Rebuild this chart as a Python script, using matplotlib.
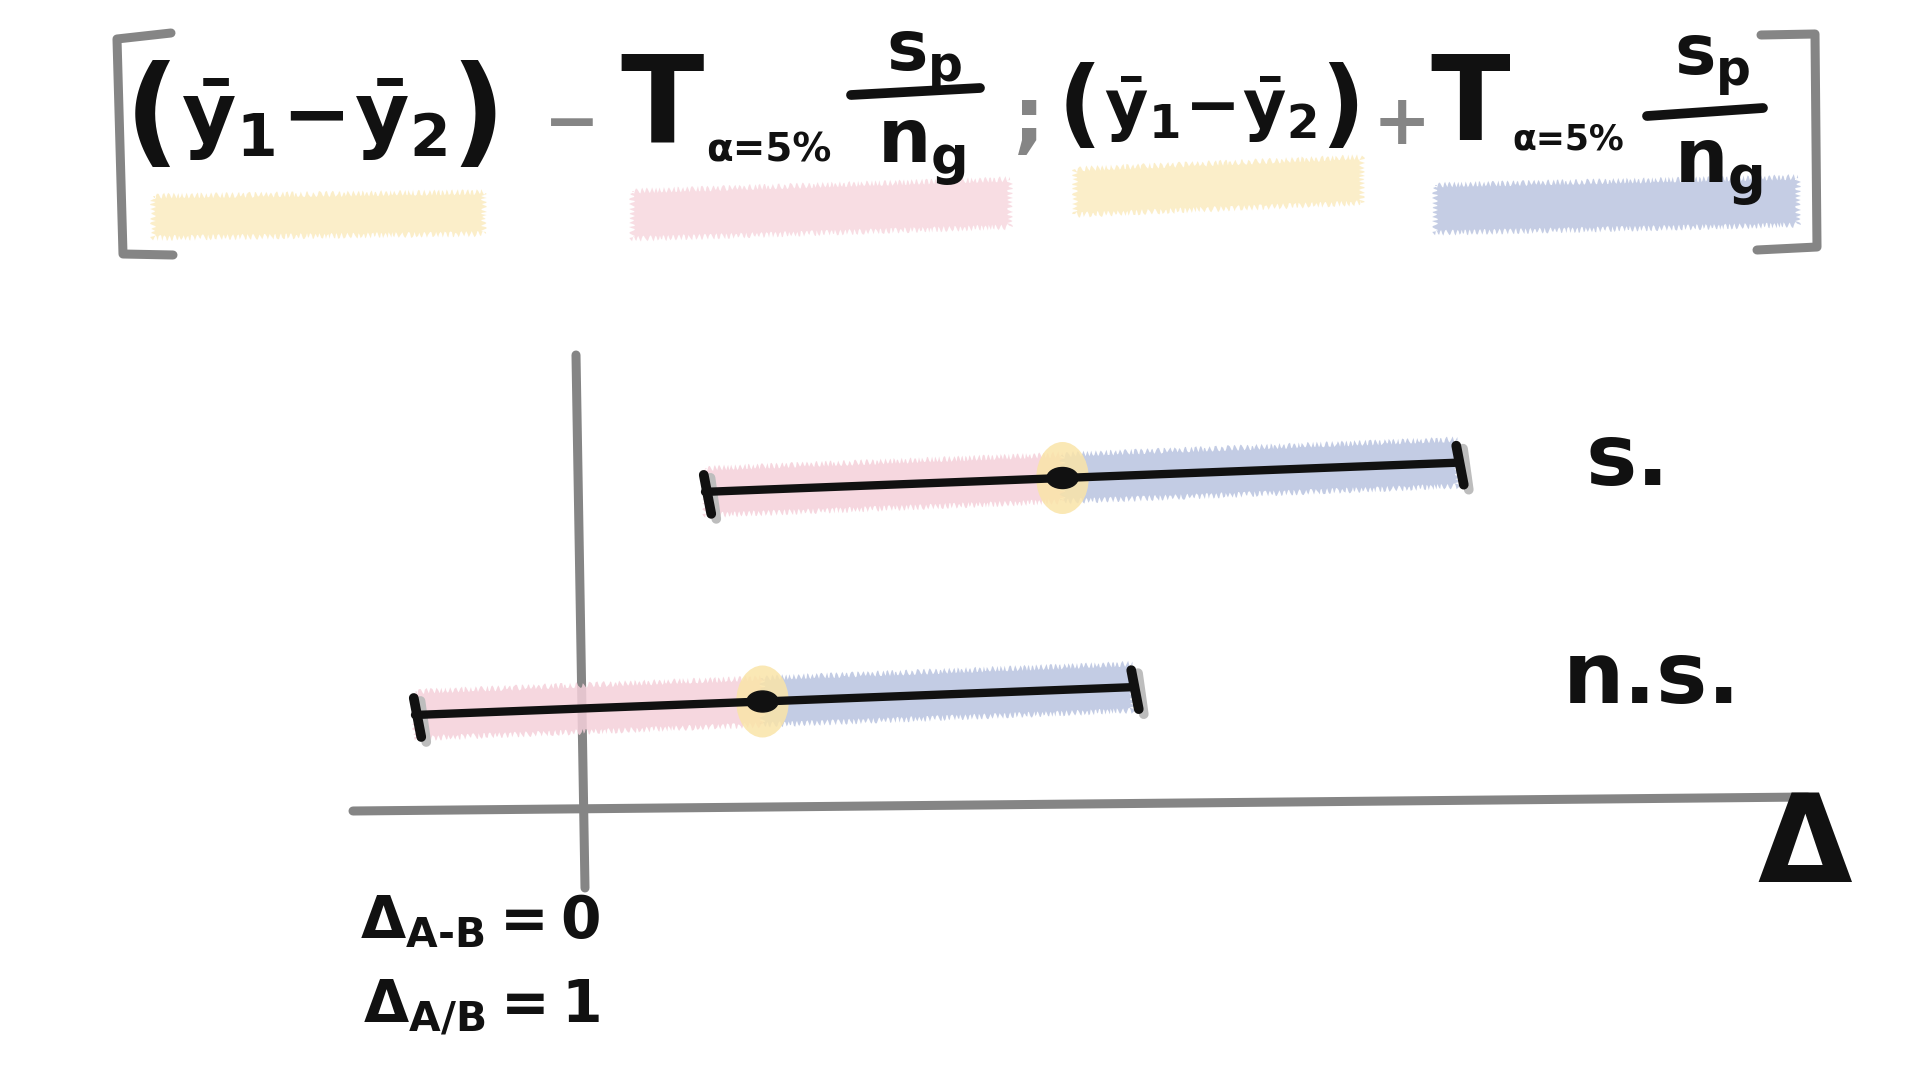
import matplotlib
matplotlib.use("Agg")
import matplotlib.pyplot as plt
from matplotlib.patches import Ellipse
import numpy as np

# ---------------- data ----------------
labels = ["s.", "n.s."]
ci_lower = [0.50, -0.66]
ci_mean = [1.93, 0.73]
ci_upper = [3.51, 2.21]
ref_labels = ["$\\Delta_{A\u2010B}=0$", r"$\Delta_{A/B}=1$"]
axis_label = "Δ"

# ---------------- layout / style ----------------
row_y = [6.02, 3.785]        # vertical position of each interval (at its mean)
tilt = 0.097                 # hand-drawn slope of the interval lines
label_pos = [(4.02, 6.19), (3.93, 4.01)]
band_half = 0.235
BLACK = "#111111"
GRAY = "#858585"
PINK = "#F5D0DA"
BLUE = "#B9C3E0"
YELLOW = "#FAE4A8"

plt.rcParams["font.family"] = ["DejaVu Sans"]
plt.rcParams["font.weight"] = "bold"
plt.rcParams["mathtext.fontset"] = "custom"
plt.rcParams["mathtext.rm"] = "DejaVu Sans:bold"
plt.rcParams["mathtext.it"] = "DejaVu Sans:bold"
plt.rcParams["mathtext.bf"] = "DejaVu Sans:bold"
plt.rcParams["mathtext.sf"] = "DejaVu Sans:bold"

fig = plt.figure(figsize=(19.2, 10.8), dpi=100)
fig.patch.set_facecolor("white")

# data axes: x -> Δ, y -> vertical layout
ax = fig.add_axes([0, 0, 1, 1])
ax.set_xlim(-2.32, 5.36)
ax.set_ylim(0, 10.8)
ax.set_axis_off()

# hand-drawn axes (gray)
ax.plot([-0.908, 4.91], [2.69, 2.83], color=GRAY, lw=6.5, solid_capstyle="round", zorder=1)
ax.plot([-0.016, 0.02], [7.25, 1.92], color=GRAY, lw=6.5, solid_capstyle="round", zorder=1)
ax.text(4.90, 2.31, axis_label, fontsize=88, fontweight="bold", color=BLACK,
        ha="center", va="center")

for lab, lo, mu, hi, y0, (lx, ly) in zip(labels, ci_lower, ci_mean, ci_upper, row_y, label_pos):
    def yl(x):
        return y0 + tilt * (np.asarray(x) - mu)
    # coloured bands
    for a, b, c in [(lo, mu, PINK), (mu, hi, BLUE)]:
        xs = np.linspace(a, b, 60)
        poly_x = np.concatenate([xs, xs[::-1]])
        poly_y = np.concatenate([yl(xs) + band_half, (yl(xs) - band_half)[::-1]])
        p, = ax.fill(poly_x, poly_y, color=c, lw=0, alpha=0.85, zorder=2)
        p.set_sketch_params(3.0, 5.0, 2.0)
    # glow around mean
    g = Ellipse((mu, y0), 0.21, 0.72, color=YELLOW, alpha=0.85, lw=0, zorder=3)
    ax.add_patch(g)
    # interval line
    ax.plot([lo, hi], [yl(lo), yl(hi)], color=BLACK, lw=6, solid_capstyle="round", zorder=5)
    # end ticks with gray shadow
    for xe in (lo, hi):
        ye = float(yl(xe))
        ax.plot([xe + 0.022, xe + 0.045], [ye + 0.14, ye - 0.27], color="#BDBDBD", lw=7,
                solid_capstyle="round", zorder=4)
        ax.plot([xe - 0.005, xe + 0.025], [ye + 0.17, ye - 0.22], color=BLACK, lw=7,
                solid_capstyle="round", zorder=6)
    # mean point
    ax.add_patch(Ellipse((mu, y0), 0.125, 0.21, color=BLACK, zorder=7))
    ax.text(lx, ly, lab, fontsize=62, fontweight="bold", color=BLACK, ha="left", va="center")

# reference value labels under the vertical axis
ax.text(0.08, 1.58, ref_labels[0], fontsize=42, color=BLACK, ha="right", va="center")
ax.text(0.08, 0.72, ref_labels[1], fontsize=42, color=BLACK, ha="right", va="center")

# ---------------- formula overlay (pixel space) ----------------
af = fig.add_axes([0, 0, 1, 1])
af.set_xlim(0, 1920)
af.set_ylim(1080, 0)
af.set_axis_off()
af.patch.set_alpha(0)

def highlight(x0, x1, yc0, yc1, h, color):
    xs = np.linspace(x0, x1, 60)
    yc = yc0 + (yc1 - yc0) * (xs - x0) / (x1 - x0)
    px = np.concatenate([xs, xs[::-1]])
    py = np.concatenate([yc - h / 2, (yc + h / 2)[::-1]])
    p, = af.fill(px, py, color=color, lw=0, alpha=0.85, zorder=1)
    p.set_sketch_params(3.0, 5.0, 2.0)

highlight(153, 484, 217, 213, 42, "#FBEBC0")
highlight(632, 1010, 215, 203, 48, "#F7D7DF")
highlight(1075, 1362, 192, 180, 46, "#FBEBC0")
highlight(1435, 1798, 209, 201, 48, "#BBC5E0")

# brackets
af.plot([171, 117, 123, 173], [33, 39, 254, 255], color=GRAY, lw=6.5,
        solid_capstyle="round", solid_joinstyle="round", zorder=2)
af.plot([1761, 1815, 1817, 1757], [35, 34, 247, 250], color=GRAY, lw=6.5,
        solid_capstyle="round", solid_joinstyle="round", zorder=2)

tk = dict(color=BLACK, zorder=3)
inner = r"$\bar{y}_1\!-\!\bar{y}_2$"
# first difference
af.text(152, 118, "(", fontsize=86, ha="center", va="center", **tk)
af.text(314, 120, inner, fontsize=60, ha="center", va="center", **tk)
af.text(478, 118, ")", fontsize=86, ha="center", va="center", **tk)
af.text(572, 124, "−", fontsize=48, color=GRAY, ha="center", va="center", zorder=3)
af.text(662, 108, "T", fontsize=88, ha="center", va="center", **tk)
af.text(706, 150, "α=5%", fontsize=28, ha="left", va="center", **tk)
af.text(924, 60, r"$s_p$", fontsize=50, ha="center", va="center", **tk)
af.plot([851, 980], [95, 88], color=BLACK, lw=7, solid_capstyle="round", zorder=3)
af.text(921, 150, r"$n_g$", fontsize=54, ha="center", va="center", **tk)
af.text(1029, 122, ";", fontsize=58, color=GRAY, ha="center", va="center", zorder=3)
# second difference
af.text(1080, 108, "(", fontsize=70, ha="center", va="center", **tk)
af.text(1211, 110, inner, fontsize=48, ha="center", va="center", **tk)
af.text(1342, 108, ")", fontsize=70, ha="center", va="center", **tk)
af.text(1402, 124, "+", fontsize=50, color=GRAY, ha="center", va="center", zorder=3)
af.text(1470, 108, "T", fontsize=84, ha="center", va="center", **tk)
af.text(1512, 140, "α=5%", fontsize=25, ha="left", va="center", **tk)
af.text(1712, 64, r"$s_p$", fontsize=50, ha="center", va="center", **tk)
af.plot([1647, 1763], [116, 108], color=BLACK, lw=7, solid_capstyle="round", zorder=3)
af.text(1718, 170, r"$n_g$", fontsize=54, ha="center", va="center", **tk)

fig.savefig("out.png", dpi=100, facecolor="white")
